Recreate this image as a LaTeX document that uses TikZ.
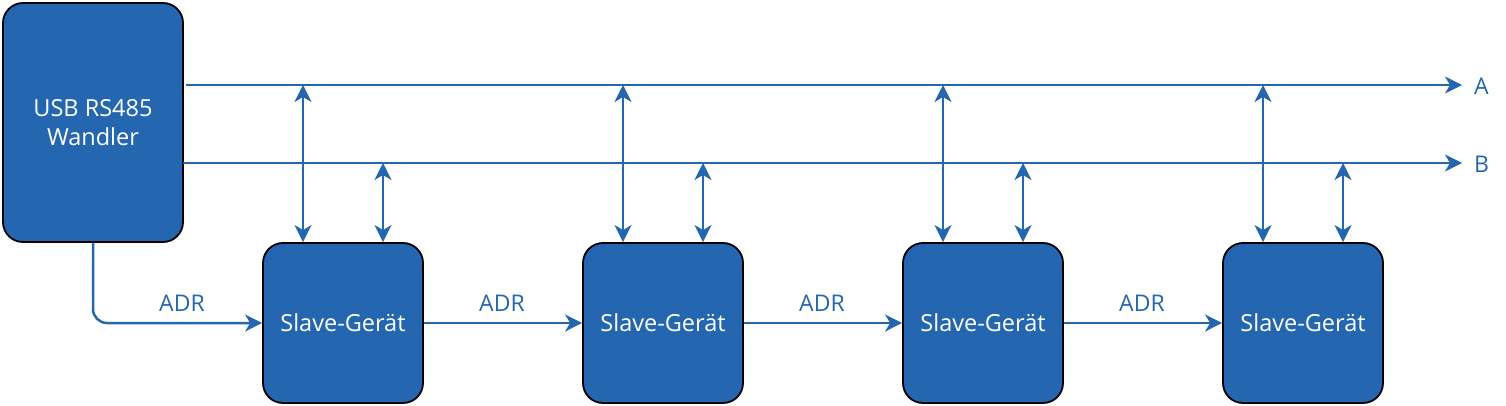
\documentclass[tikz,border=0pt]{standalone}
\usepackage{fontspec}
\setmainfont{Open Sans}
\usetikzlibrary{arrows.meta}
\definecolor{cblue}{HTML}{2566B0}
\tikzset{
  box/.style={draw=black, line width=1.8pt, fill=cblue, rounded corners=20pt, text=white, align=center, font=\fontsize{23.5}{29}\selectfont, inner sep=0pt},
  wire/.style={draw=cblue, line width=2.5pt},
  ah/.tip={Stealth[length=17pt,width=17pt,inset=5pt]},
  tip/.style={-ah},
  btip/.style={ah-ah},
  lbl/.style={text=cblue, font=\fontsize{23}{28}\selectfont, inner sep=0pt}
}
\begin{document}
\begin{tikzpicture}[x=1pt,y=-1pt]
\useasboundingbox (0,0) rectangle (1506,406);
\node[box, minimum width=180pt, minimum height=239pt] (usb) at (93,122.5) {USB RS485\\Wandler};
\foreach \i/\x in {1/343,2/663,3/983,4/1303}{
  \node[box, minimum width=160pt, minimum height=160pt] (s\i) at (\x,323) {Slave-Gerät};
}
\coordinate (aS) at (186,85);
\coordinate (aE) at (1462,85);
\coordinate (bS) at (183,163);
\coordinate (bE) at (1462,163);
\draw[wire,tip] (aS) -- (aE);
\draw[wire,tip] (bS) -- (bE);
\node[lbl, anchor=west] (la) at (1474,86) {A};
\node[lbl, anchor=west] (lb) at (1474,164) {B};
\foreach \i/\x in {1/343,2/663,3/983,4/1303}{
  \coordinate (ta\i) at (\x-40,85);
  \coordinate (tb\i) at (\x+40,163);
  \draw[wire,btip] (ta\i) -- (s\i.north -| ta\i);
  \draw[wire,btip] (tb\i) -- (s\i.north -| tb\i);
}
\draw[wire,tip,rounded corners=14pt] (usb.south) |- (s1.west);
\draw[wire,tip] (s1.east) -- (s2.west);
\draw[wire,tip] (s2.east) -- (s3.west);
\draw[wire,tip] (s3.east) -- (s4.west);
\foreach \x/\n in {182/1,502/2,822/3,1142/4}{
  \node[lbl] (adr\n) at (\x,303) {ADR};
}
\end{tikzpicture}
\end{document}
